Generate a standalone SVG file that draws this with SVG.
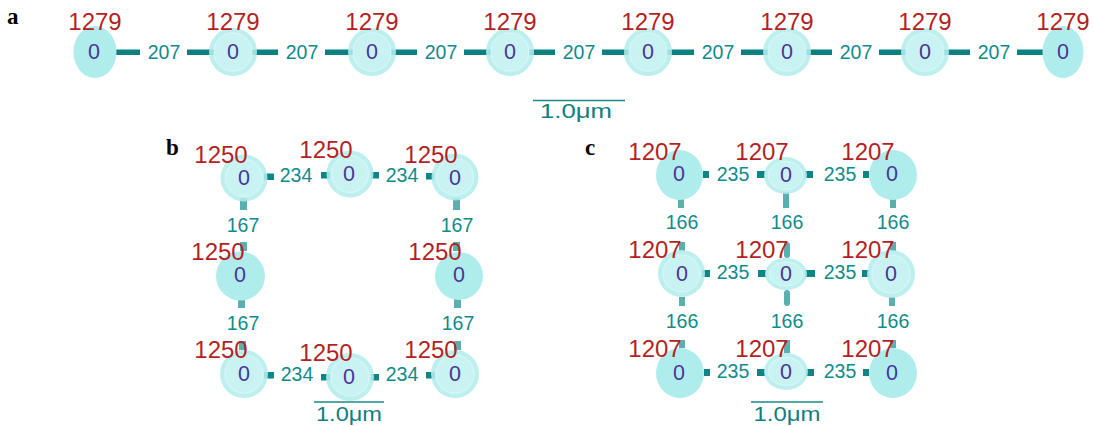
<svg xmlns="http://www.w3.org/2000/svg" width="1094" height="426" viewBox="0 0 1094 426">
<style>
.plain{fill:#afeded}
.ring{opacity:0.88}
.ringo{fill:#b4eded}
.ringi{fill:#c2f2f2;stroke:#cdf5f5;stroke-width:1.5}
.bar{fill:#0b8080}
.sq{fill:#0b8585}
.vb{fill:#5aafaf}
.id{font-family:"Liberation Sans",Arial,sans-serif;font-size:24px;fill:#b41f24;text-anchor:middle}
.z{font-family:"Liberation Sans",Arial,sans-serif;font-size:21.5px;fill:#4b3596;text-anchor:middle}
.el{font-family:"Liberation Sans",Arial,sans-serif;font-size:19.5px;fill:#0e8b8b;text-anchor:middle}
.sc{font-family:"Liberation Sans",Arial,sans-serif;font-size:21px;fill:#117f7f;text-anchor:middle}
.sl{stroke:#1a8a8a;stroke-width:1.5}
.pl{font-family:"Liberation Serif","Times New Roman",serif;font-size:23px;font-weight:bold;fill:#000}
</style>
<text class="pl" x="7" y="24">a</text>
<text class="pl" x="166" y="155">b</text>
<text class="pl" x="585" y="155">c</text>

<g id="connectors">
<rect class="bar" x="114" y="49.5" width="26" height="5.5"/><rect class="bar" x="187" y="49.5" width="27" height="5.5"/>
<rect class="bar" x="252" y="49.5" width="26" height="5.5"/><rect class="bar" x="325" y="49.5" width="28" height="5.5"/>
<rect class="bar" x="391" y="49.5" width="26" height="5.5"/><rect class="bar" x="464" y="49.5" width="27" height="5.5"/>
<rect class="bar" x="529" y="49.5" width="26" height="5.5"/><rect class="bar" x="602" y="49.5" width="27" height="5.5"/>
<rect class="bar" x="667" y="49.5" width="27" height="5.5"/><rect class="bar" x="741" y="49.5" width="27" height="5.5"/>
<rect class="bar" x="806" y="49.5" width="26" height="5.5"/><rect class="bar" x="879" y="49.5" width="27" height="5.5"/>
<rect class="bar" x="944" y="49.5" width="26" height="5.5"/><rect class="bar" x="1017" y="49.5" width="26" height="5.5"/>
<text class="el" x="164" y="59">207</text><text class="el" x="302" y="59">207</text><text class="el" x="441" y="59">207</text>
<text class="el" x="579" y="59">207</text><text class="el" x="718" y="59">207</text><text class="el" x="856" y="59">207</text>
<text class="el" x="994" y="59">207</text>
<rect class="sq" x="264" y="173.5" width="10" height="6.5"/><rect class="sq" x="321" y="172" width="9" height="6.5"/>
<rect class="sq" x="371" y="172" width="8" height="6.5"/><rect class="sq" x="426" y="173" width="8" height="6.5"/>
<text class="el" x="296" y="182">234</text><text class="el" x="402" y="182">234</text>
<rect class="sq" x="264" y="372" width="10" height="6.5"/><rect class="sq" x="321" y="374" width="9" height="6.5"/>
<rect class="sq" x="371" y="374" width="8" height="6.5"/><rect class="sq" x="426" y="372" width="9" height="6.5"/>
<text class="el" x="297" y="381">234</text><text class="el" x="402" y="381">234</text>
<rect class="vb" x="240" y="198" width="7" height="12"/><rect class="vb" x="240" y="242" width="7" height="9"/>
<rect class="vb" x="453" y="198" width="7" height="12"/><rect class="vb" x="453" y="242" width="7" height="9"/>
<text class="el" x="243" y="232">167</text><text class="el" x="457" y="232">167</text>
<rect class="vb" x="238" y="299" width="7" height="9"/><rect class="vb" x="239" y="341" width="7" height="9"/>
<rect class="vb" x="454" y="299" width="7" height="9"/><rect class="vb" x="454" y="341" width="7" height="9"/>
<text class="el" x="243" y="330">167</text><text class="el" x="458" y="330">167</text>
<rect class="sq" x="703" y="171" width="6" height="7"/><rect class="sq" x="757" y="171" width="8" height="7"/>
<rect class="sq" x="805" y="171" width="8" height="7"/><rect class="sq" x="863" y="171" width="6" height="7"/>
<text class="el" x="733" y="181">235</text><text class="el" x="840" y="181">235</text>
<rect class="sq" x="702" y="270" width="8" height="7"/><rect class="sq" x="758" y="270" width="8" height="7"/>
<rect class="sq" x="805" y="270" width="10" height="7"/><rect class="sq" x="862" y="270" width="7" height="7"/>
<text class="el" x="733" y="279">235</text><text class="el" x="840" y="279">235</text>
<rect class="sq" x="704" y="369" width="6" height="7"/><rect class="sq" x="757" y="369" width="8" height="7"/>
<rect class="sq" x="806" y="369" width="8" height="7"/><rect class="sq" x="863" y="369" width="6" height="7"/>
<text class="el" x="733" y="378">235</text><text class="el" x="840" y="378">235</text>
<rect class="vb" x="678" y="199" width="6" height="9"/><rect class="vb" x="783" y="192" width="6" height="16"/><rect class="vb" x="890" y="199" width="6" height="9"/>
<text class="el" x="682" y="229">166</text><text class="el" x="787" y="229">166</text><text class="el" x="893" y="229">166</text>
<rect class="vb" x="679" y="242" width="6" height="9"/><rect class="vb" x="784" y="242" width="6" height="16" rx="3"/><rect class="vb" x="890" y="242" width="6" height="9"/>
<rect class="vb" x="679" y="297" width="6" height="9"/><rect class="vb" x="784" y="290" width="6" height="16" rx="3"/><rect class="vb" x="889" y="297" width="6" height="9"/>
<text class="el" x="682" y="328">166</text><text class="el" x="787" y="328">166</text><text class="el" x="893" y="328">166</text>
<rect class="vb" x="679" y="340" width="6" height="8"/><rect class="vb" x="784" y="340" width="6" height="13"/><rect class="vb" x="890" y="340" width="6" height="8"/>
</g>

<g id="scalebars">
<line class="sl" x1="533" y1="100.5" x2="625" y2="100.5"/>
<text class="sc" x="576" y="118" textLength="72" lengthAdjust="spacingAndGlyphs">1.0μm</text>
<line class="sl" x1="314" y1="402" x2="384" y2="402"/>
<text class="sc" x="349" y="421" textLength="66" lengthAdjust="spacingAndGlyphs">1.0μm</text>
<line class="sl" x1="751" y1="402" x2="823" y2="402"/>
<text class="sc" x="787" y="421" textLength="67" lengthAdjust="spacingAndGlyphs">1.0μm</text>
</g>

<g id="a1"><ellipse class="plain" cx="95" cy="52" rx="21.5" ry="26"/><text class="z" x="94" y="59">0</text><text class="id" x="95" y="30">1279</text></g>
<g id="a2"><g class="ring"><circle class="ringo" cx="233" cy="52" r="24"/><circle class="ringi" cx="233" cy="52" r="19"/></g><text class="z" x="233" y="59">0</text><text class="id" x="233" y="30">1279</text></g>
<g id="a3"><g class="ring"><circle class="ringo" cx="372" cy="52" r="24"/><circle class="ringi" cx="372" cy="52" r="19"/></g><text class="z" x="372" y="59">0</text><text class="id" x="372" y="30">1279</text></g>
<g id="a4"><g class="ring"><circle class="ringo" cx="510" cy="52" r="24"/><circle class="ringi" cx="510" cy="52" r="19"/></g><text class="z" x="510" y="59">0</text><text class="id" x="510" y="30">1279</text></g>
<g id="a5"><g class="ring"><circle class="ringo" cx="648" cy="52" r="24"/><circle class="ringi" cx="648" cy="52" r="19"/></g><text class="z" x="648" y="59">0</text><text class="id" x="648" y="30">1279</text></g>
<g id="a6"><g class="ring"><circle class="ringo" cx="787" cy="52" r="24"/><circle class="ringi" cx="787" cy="52" r="19"/></g><text class="z" x="787" y="59">0</text><text class="id" x="787" y="30">1279</text></g>
<g id="a7"><g class="ring"><circle class="ringo" cx="925" cy="52" r="24"/><circle class="ringi" cx="925" cy="52" r="19"/></g><text class="z" x="925" y="59">0</text><text class="id" x="925" y="30">1279</text></g>
<g id="a8"><ellipse class="plain" cx="1063" cy="52" rx="20.5" ry="26"/><text class="z" x="1063" y="59">0</text><text class="id" x="1063" y="30">1279</text></g>

<g id="b1"><g class="ring"><circle class="ringo" cx="244" cy="178" r="23.5"/><circle class="ringi" cx="244" cy="178" r="18.5"/></g><text class="z" x="244" y="185">0</text><text class="id" x="221" y="163">1250</text></g>
<g id="b2"><g class="ring"><circle class="ringo" cx="350" cy="174" r="23.5"/><circle class="ringi" cx="350" cy="174" r="18.5"/></g><text class="z" x="349" y="181">0</text><text class="id" x="326" y="158">1250</text></g>
<g id="b3"><g class="ring"><circle class="ringo" cx="455" cy="177" r="23.5"/><circle class="ringi" cx="455" cy="177" r="18.5"/></g><text class="z" x="455" y="185">0</text><text class="id" x="431" y="163">1250</text></g>
<g id="b4"><circle class="plain" cx="240.5" cy="276" r="24.5"/><text class="z" x="240" y="282">0</text><text class="id" x="218" y="260">1250</text></g>
<g id="b5"><circle class="plain" cx="459" cy="276" r="24"/><text class="z" x="459" y="282">0</text><text class="id" x="435" y="260">1250</text></g>
<g id="b6"><g class="ring"><circle class="ringo" cx="244" cy="374" r="24"/><circle class="ringi" cx="244" cy="374" r="19"/></g><text class="z" x="244" y="381">0</text><text class="id" x="221" y="358">1250</text></g>
<g id="b7"><g class="ring"><circle class="ringo" cx="350" cy="377" r="24"/><circle class="ringi" cx="350" cy="377" r="19"/></g><text class="z" x="349" y="384">0</text><text class="id" x="326" y="361">1250</text></g>
<g id="b8"><g class="ring"><circle class="ringo" cx="455" cy="374" r="24"/><circle class="ringi" cx="455" cy="374" r="19"/></g><text class="z" x="455" y="381">0</text><text class="id" x="431" y="358">1250</text></g>

<g id="c1"><ellipse class="plain" cx="679.5" cy="175" rx="23.5" ry="25"/><text class="z" x="679" y="181">0</text><text class="id" x="655" y="160">1207</text></g>
<g id="c2"><g class="ring"><ellipse class="ringo" cx="785.5" cy="175.5" rx="21.5" ry="18.5"/><ellipse class="ringi" cx="785.5" cy="175.5" rx="17" ry="14"/></g><text class="z" x="786" y="182">0</text><text class="id" x="762" y="160">1207</text></g>
<g id="c3"><ellipse class="plain" cx="893" cy="175" rx="24" ry="25"/><text class="z" x="892" y="181">0</text><text class="id" x="868" y="160">1207</text></g>
<g id="c4"><g class="ring"><circle class="ringo" cx="681.5" cy="273.5" r="23.5"/><circle class="ringi" cx="681.5" cy="273.5" r="18.5"/></g><text class="z" x="682" y="281">0</text><text class="id" x="655" y="258">1207</text></g>
<g id="c5"><g class="ring"><ellipse class="ringo" cx="786" cy="274" rx="21" ry="16"/><ellipse class="ringi" cx="786" cy="274" rx="16.5" ry="12"/></g><text class="z" x="786" y="281">0</text><text class="id" x="762" y="258">1207</text></g>
<g id="c6"><g class="ring"><circle class="ringo" cx="891" cy="274" r="24"/><circle class="ringi" cx="891" cy="274" r="19"/></g><text class="z" x="891" y="281">0</text><text class="id" x="868" y="258">1207</text></g>
<g id="c7"><ellipse class="plain" cx="680" cy="373" rx="24" ry="25"/><text class="z" x="679" y="380">0</text><text class="id" x="655" y="357">1207</text></g>
<g id="c8"><g class="ring"><ellipse class="ringo" cx="786" cy="371.5" rx="22" ry="18.5"/><ellipse class="ringi" cx="786" cy="371.5" rx="17.5" ry="14"/></g><text class="z" x="786" y="379">0</text><text class="id" x="762" y="357">1207</text></g>
<g id="c9"><ellipse class="plain" cx="893" cy="373" rx="24" ry="25"/><text class="z" x="892" y="380">0</text><text class="id" x="868" y="357">1207</text></g>
</svg>
